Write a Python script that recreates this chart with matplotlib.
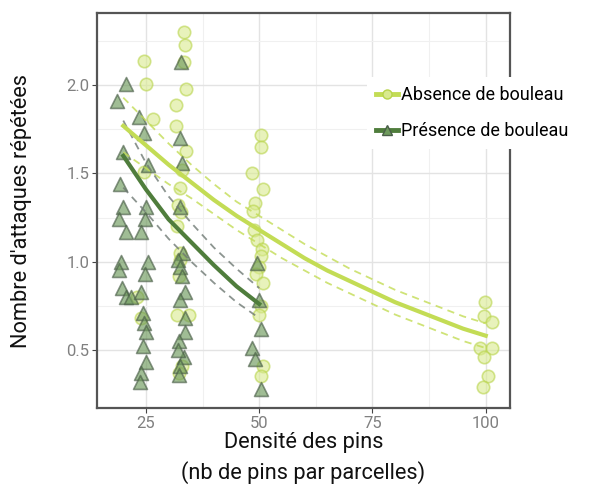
import matplotlib
matplotlib.use("Agg")
import matplotlib.pyplot as plt
from matplotlib.lines import Line2D

# ---------------- data ----------------
# Absence de bouleau (circles)
abs_x = [24.6, 25.0, 26.5, 24.5, 23.0, 24.0,
         33.5, 33.6, 33.4, 33.8, 31.7, 31.6, 33.9, 33.0, 32.5, 32.0, 32.8, 31.9, 32.5,
         32.6, 32.2, 31.8, 34.5, 32.9, 32.3,
         50.5, 50.5, 48.5, 50.8, 49.0, 48.7, 48.8, 49.5, 50.6, 50.4, 50.0, 49.3, 50.8, 50.5, 50.0,
         50.8, 50.4,
         99.8, 99.6, 101.3, 98.7, 101.3, 99.6, 100.5, 99.4]
abs_y = [2.14, 2.01, 1.81, 1.51, 0.80, 0.68,
         2.30, 2.23, 2.13, 1.98, 1.89, 1.77, 1.63, 1.52, 1.42, 1.32, 1.28, 1.20, 1.05,
         1.01, 0.92, 0.70, 0.70, 0.41, 0.37,
         1.72, 1.65, 1.50, 1.41, 1.33, 1.29, 1.18, 1.12, 1.07, 1.03, 0.97, 0.93, 0.88, 0.75, 0.70,
         0.41, 0.35,
         0.77, 0.69, 0.66, 0.51, 0.51, 0.46, 0.35, 0.29]

# Presence de bouleau (triangles)
pre_x = [20.6, 18.6, 20.0, 19.3, 20.0, 19.0, 20.5, 19.5, 19.0, 19.8, 20.5, 21.8,
         23.5, 24.6, 25.5, 25.0, 24.8, 24.0, 25.5, 24.8, 24.0, 24.3, 24.6, 25.0, 24.3, 25.0, 24.0, 23.8,
         32.7, 32.5, 33.0, 32.6, 33.2, 32.0, 32.6, 33.0, 33.7, 33.7, 32.4, 33.4, 32.6, 32.3, 32.0, 33.6, 32.6,
         49.5, 50.0, 50.5, 48.5, 49.0, 50.5]
pre_y = [2.01, 1.91, 1.62, 1.44, 1.31, 1.24, 1.17, 1.00, 0.95, 0.85, 0.80, 0.80,
         1.82, 1.73, 1.55, 1.31, 1.24, 1.17, 1.00, 0.93, 0.83, 0.71, 0.65, 0.60, 0.52, 0.43, 0.37, 0.32,
         2.13, 1.70, 1.56, 1.31, 1.05, 1.01, 0.97, 0.92, 0.83, 0.60, 0.55, 0.46, 0.41, 0.36, 0.50, 0.68, 0.78,
         0.99, 0.78, 0.62, 0.51, 0.45, 0.28]

# fitted curves and confidence bands
fit_abs_x = [20, 25, 30, 35, 40, 45, 50, 55, 60, 65, 70, 75, 80, 85, 90, 95, 100]
fit_abs_y = [1.77, 1.66, 1.55, 1.45, 1.35, 1.26, 1.18, 1.10, 1.02, 0.95, 0.89, 0.83,
             0.77, 0.72, 0.67, 0.62, 0.58]
fit_abs_lo = [1.62, 1.53, 1.44, 1.36, 1.27, 1.18, 1.10, 1.02, 0.95, 0.88, 0.82, 0.76,
              0.70, 0.65, 0.60, 0.55, 0.51]
fit_abs_hi = [1.93, 1.80, 1.67, 1.55, 1.44, 1.34, 1.26, 1.18, 1.10, 1.03, 0.96, 0.90,
              0.84, 0.79, 0.74, 0.69, 0.65]

fit_pre_x = [20, 25, 30, 35, 40, 45, 50]
fit_pre_y = [1.60, 1.41, 1.24, 1.11, 0.98, 0.86, 0.76]
fit_pre_lo = [1.42, 1.28, 1.13, 1.00, 0.88, 0.77, 0.68]
fit_pre_hi = [1.80, 1.56, 1.37, 1.22, 1.08, 0.96, 0.85]

xticks = [25, 50, 75, 100]
yticks = [0.5, 1.0, 1.5, 2.0]

label_abs = "Absence de bouleau"
label_pre = "Présence de bouleau"
xlabel = "Densité des pins\n(nb de pins par parcelles)"
ylabel = "Nombre d'attaques répétées"

# ---------------- style ----------------
plt.rcParams['font.family'] = ['Roboto', 'DejaVu Sans']
c_abs_line = "#c3dc55"
c_abs_face = "#d9ea8f"
c_abs_edge = "#b8d44a"
c_pre_line = "#4f7d3c"
c_pre_face = "#6e9a5c"
c_pre_edge = "#4a5e48"

fig = plt.figure(figsize=(5.9, 4.91), dpi=100)
ax = fig.add_axes([0.1644, 0.169, 0.864 - 0.1644, 0.9735 - 0.169])

ax.set_xlim(14.2, 105.3)
ax.set_ylim(0.17, 2.41)

# grid
ax.set_xticks(xticks)
ax.set_yticks(yticks)
ax.set_xticks([37.5, 62.5, 87.5], minor=True)
ax.set_yticks([0.75, 1.25, 1.75, 2.25], minor=True)
ax.grid(True, which='major', color='#e3e3e3', linewidth=1.0)
ax.grid(True, which='minor', color='#f0f0f0', linewidth=0.8)
ax.set_axisbelow(True)
ax.tick_params(which='minor', length=0)
ax.tick_params(which='major', length=3.5, color='#444444', labelsize=12,
               labelcolor='#808080', pad=2)
for s in ax.spines.values():
    s.set_color('#555555')
    s.set_linewidth(1.6)

# points
ax.scatter(abs_x, abs_y, s=80, marker='o', facecolor=c_abs_face, edgecolor=c_abs_edge,
           linewidths=1.2, alpha=0.6, zorder=3)
ax.scatter(pre_x, pre_y, s=100, marker='^', facecolor=c_pre_face, edgecolor=c_pre_edge,
           linewidths=1.2, alpha=0.65, zorder=3)

# fits
dash = (0, (4, 3))
ax.plot(fit_abs_x, fit_abs_lo, ls=dash, color=c_abs_line, lw=1.3, alpha=0.8, zorder=4)
ax.plot(fit_abs_x, fit_abs_hi, ls=dash, color=c_abs_line, lw=1.3, alpha=0.8, zorder=4)
ax.plot(fit_abs_x, fit_abs_y, color=c_abs_line, lw=3, zorder=5)
ax.plot(fit_pre_x, fit_pre_lo, ls=dash, color='#6f7a74', lw=1.3, alpha=0.8, zorder=4)
ax.plot(fit_pre_x, fit_pre_hi, ls=dash, color='#6f7a74', lw=1.3, alpha=0.8, zorder=4)
ax.plot(fit_pre_x, fit_pre_y, color=c_pre_line, lw=3, zorder=5)

ax.set_xlabel(xlabel, fontsize=15.7, color='#111111', linespacing=1.45)
ax.xaxis.set_label_coords(0.5, -0.06)
ax.set_ylabel(ylabel, fontsize=15.7, color='#111111')
ax.yaxis.set_label_coords(-0.157, 0.5)

# legend
h_abs = Line2D([], [], color=c_abs_line, lw=3.5, marker='o', markersize=6.5,
               markerfacecolor=c_abs_face, markeredgecolor=c_abs_edge)
h_pre = Line2D([], [], color=c_pre_line, lw=3.5, marker='^', markersize=7.5,
               markerfacecolor=c_pre_face, markeredgecolor=c_pre_edge)
leg = fig.legend([h_abs, h_pre], [label_abs, label_pre], loc='upper left',
                 bbox_to_anchor=(0.622, 0.843), frameon=True, fontsize=13,
                 handlelength=1.2, handletextpad=0.2, labelspacing=1.0,
                 borderpad=0.5, borderaxespad=0)
leg.get_frame().set_facecolor('white')
leg.get_frame().set_edgecolor('none')
leg.get_frame().set_alpha(1)
leg.set_zorder(10)

fig.savefig("out.png", dpi=100)
